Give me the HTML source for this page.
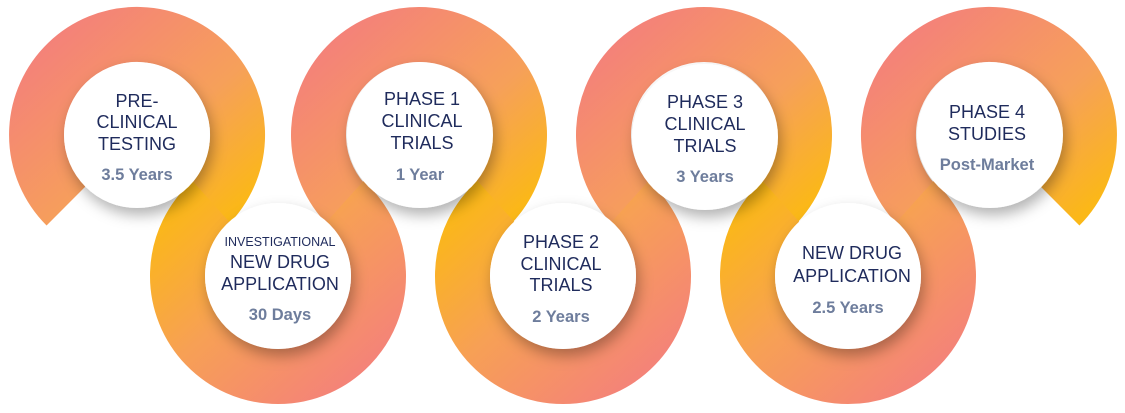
<!DOCTYPE html>
<html><head><meta charset="utf-8"><style>
html,body{margin:0;padding:0;background:#fff;}
svg{display:block;}
text{font-family:"Liberation Sans",sans-serif;text-anchor:middle;}
.t{fill:#1f2b5c;font-size:18px;}
.y{fill:#6e7d9c;font-size:16.5px;font-weight:bold;}
</style></head><body>
<svg width="1125" height="413" viewBox="0 0 1125 413" xmlns="http://www.w3.org/2000/svg">
<defs>
<linearGradient id="gt" x1="0" y1="0" x2="1" y2="1">
<stop offset="0" stop-color="#f47f7c"/><stop offset="0.6" stop-color="#f6a05a"/><stop offset="1" stop-color="#fbb817"/>
</linearGradient>
<linearGradient id="gb" x1="0" y1="0" x2="1" y2="1">
<stop offset="0" stop-color="#fbb817"/><stop offset="0.45" stop-color="#f7a055"/><stop offset="1" stop-color="#f4807c"/>
</linearGradient>
<filter id="sh" x="-30%" y="-30%" width="160%" height="170%">
<feDropShadow dx="3" dy="7" stdDeviation="7" flood-color="#000" flood-opacity="0.3"/>
</filter>
</defs>
<g fill="none" stroke-width="55">
<path stroke="url(#gt)" d="M66,206 A100.5,100.5 0 1 1 204.2,209.7"/>
<path stroke="url(#gt)" d="M351.8,209.7 A100.5,100.5 0 1 1 486.2,209.7"/>
<path stroke="url(#gt)" d="M636.8,209.7 A100.5,100.5 0 1 1 771.2,209.7"/>
<path stroke="url(#gt)" d="M921.8,209.7 A100.5,100.5 0 1 1 1060,206"/>
<path stroke="url(#gb)" d="M210.8,201.3 A100.5,100.5 0 1 0 345.2,201.3"/>
<path stroke="url(#gb)" d="M495.8,201.3 A100.5,100.5 0 1 0 630.2,201.3"/>
<path stroke="url(#gb)" d="M780.8,201.3 A100.5,100.5 0 1 0 915.2,201.3"/>
</g>
<g fill="#fff" filter="url(#sh)">
<circle cx="137" cy="135" r="73"/>
<circle cx="278" cy="276" r="73"/>
<circle cx="420" cy="135" r="73"/>
<circle cx="563" cy="276" r="73"/>
<circle cx="705" cy="137" r="73"/>
<circle cx="848" cy="276" r="73"/>
<circle cx="990" cy="135" r="73"/>
</g>
<text class="t" x="137" y="107">PRE-</text>
<text class="t" x="137" y="128">CLINICAL</text>
<text class="t" x="137" y="150">TESTING</text>
<text class="y" x="137" y="180">3.5 Years</text>

<text class="t" x="280" y="246" style="font-size:12.5px">INVESTIGATIONAL</text>
<text class="t" x="280" y="268">NEW DRUG</text>
<text class="t" x="280" y="290">APPLICATION</text>
<text class="y" x="280" y="320">30 Days</text>

<text class="t" x="422" y="105">PHASE 1</text>
<text class="t" x="422" y="127">CLINICAL</text>
<text class="t" x="422" y="149">TRIALS</text>
<text class="y" x="420" y="180">1 Year</text>

<text class="t" x="561" y="248">PHASE 2</text>
<text class="t" x="561" y="270">CLINICAL</text>
<text class="t" x="561" y="291">TRIALS</text>
<text class="y" x="561" y="322">2 Years</text>

<text class="t" x="705" y="108">PHASE 3</text>
<text class="t" x="705" y="130">CLINICAL</text>
<text class="t" x="705" y="152">TRIALS</text>
<text class="y" x="705" y="182">3 Years</text>

<text class="t" x="852" y="259">NEW DRUG</text>
<text class="t" x="852" y="282">APPLICATION</text>
<text class="y" x="848" y="313">2.5 Years</text>

<text class="t" x="987" y="118">PHASE 4</text>
<text class="t" x="987" y="140">STUDIES</text>
<text class="y" x="987" y="170">Post-Market</text>
</svg>
</body></html>
